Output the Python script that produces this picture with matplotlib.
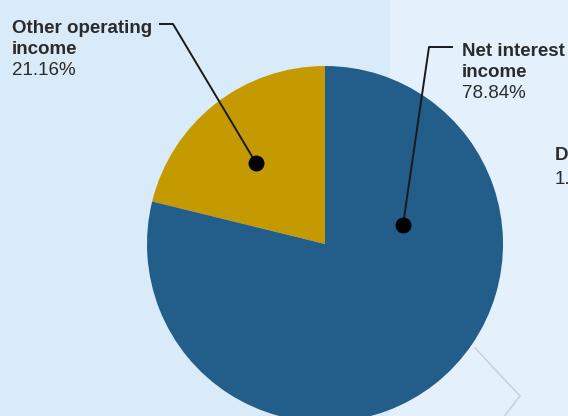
import matplotlib
matplotlib.use('Agg')
import matplotlib.pyplot as plt
from matplotlib.patches import Rectangle

labels = [['Other operating', 'income'], ['Net interest', 'income']]
shares = [21.16, 78.84]
colors = ['#c49a00', '#235d8a']

W, H = 568, 416

fig = plt.figure(figsize=(5.68, 4.16), dpi=100, facecolor='#e4f1fc')
ax = fig.add_axes([0, 0, 1, 1])
ax.set_facecolor('#e4f1fc')

# darker panel on the left
ax.add_patch(Rectangle((0, 0), 390, H, facecolor='#d9eaf8', edgecolor='none', zorder=0))

# pie, centre in pixel coords (y up)
cx, cy, r = 325, H - 244, 178
wedges, _ = ax.pie(shares, colors=colors, startangle=90, counterclock=True,
                   center=(cx, cy), radius=r, frame=True,
                   wedgeprops=dict(linewidth=0))
ax.set_xlim(0, W)
ax.set_ylim(0, H)
ax.set_aspect('equal')
ax.axis('off')

# faint connector of the neighbouring chart
ax.plot([475, 520, 503], [H - 348, H - 396, H - 418], color='#c9d3dc', lw=1.2, zorder=1)

# leader lines and dots
ax.plot([160, 173, 256], [H - 24, H - 24, H - 163], color='#1a1a1a', lw=1.4, zorder=3)
ax.plot([452, 429, 403], [H - 47, H - 47, H - 225], color='#1a1a1a', lw=1.4, zorder=3)
ax.scatter([256, 403], [H - 163, H - 225], s=110, color='black', zorder=4)

# labels, placed line by line on their baselines
tc = '#2b2b2b'
fam = 'Liberation Sans'
fs = 13.5
label_pos = [(12, 33), (462, 56)]
for (x0, b0), lines, share in zip(label_pos, labels, shares):
    for k, line in enumerate(lines):
        ax.text(x0, H - (b0 + 21 * k), line, ha='left', va='baseline', fontsize=fs,
                fontweight='bold', color=tc, family=fam)
    ax.text(x0, H - (b0 + 42), f'{share:.2f}%', ha='left', va='baseline', fontsize=fs,
            color=tc, family=fam)

# neighbouring chart label, cut by the edge
ax.text(555, H - 160, 'D', ha='left', va='baseline', fontsize=fs, fontweight='bold',
        color=tc, family=fam)
ax.text(555, H - 184, '1.', ha='left', va='baseline', fontsize=fs, color=tc, family=fam)

fig.savefig('out.png', dpi=100, facecolor=fig.get_facecolor())
